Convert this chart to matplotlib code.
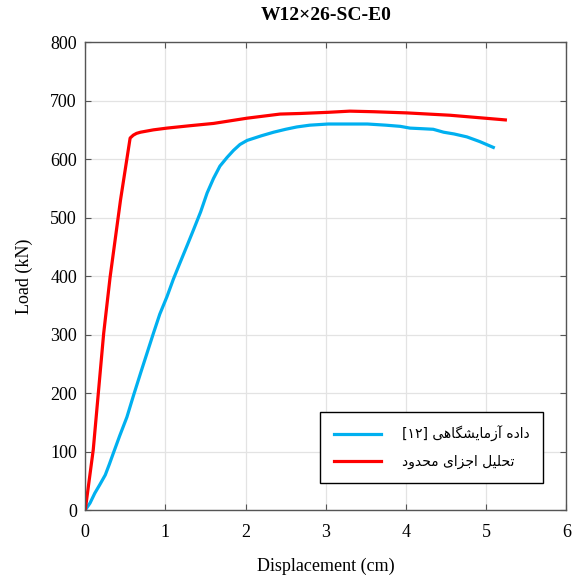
import matplotlib
matplotlib.use("Agg")
import matplotlib.pyplot as plt

# ---- data ----
fe_x = [0.0, 0.10, 0.23, 0.31, 0.44, 0.56, 0.60, 0.64, 0.69, 0.85, 1.02, 1.3, 1.6, 2.02, 2.43, 2.68,
        3.03, 3.3, 3.6, 4.01, 4.55, 5.24]
fe_y = [0, 103, 302, 398, 530, 636, 641, 644, 646, 650, 653, 657, 661, 670, 677, 678,
        680, 682, 681, 679, 675, 667]

exp_x = [0.0, 0.06, 0.12, 0.18, 0.25, 0.30, 0.35, 0.43, 0.52, 0.60, 0.69, 0.77, 0.85, 0.93, 1.02,
         1.10, 1.18, 1.27, 1.35, 1.44, 1.52, 1.60, 1.68, 1.77, 1.85, 1.93, 2.02, 2.2, 2.35, 2.5,
         2.64, 2.8, 3.03, 3.3, 3.52, 3.75, 3.93, 4.05, 4.2, 4.34, 4.47, 4.6, 4.76, 4.92, 5.09]
exp_y = [0, 12, 29, 43, 60, 78, 97, 127, 159, 195, 234, 268, 302, 335, 365,
         395, 422, 452, 479, 510, 542, 567, 588, 603, 615, 625, 632, 640, 646, 651,
         655, 658, 660, 660, 660, 658, 656, 653, 652, 651, 646, 643, 638, 630, 620]

x_ticks = [0, 1, 2, 3, 4, 5, 6]
y_ticks = [0, 100, 200, 300, 400, 500, 600, 700, 800]

title = "W12\u00d726-SC-E0"
xlabel = "Displacement (cm)"
ylabel = "Load (kN)"
# Persian labels, pre-shaped into visual order with presentation forms
# logical: "داده آزمایشگاهی [۱۲]"
label_exp = ("[\u06f1\u06f2] "
             "\uFBFD\uFEEB\uFE8E\uFB95\uFEB8\uFBFE\uFE8E\uFEE3\uFEAF\uFE81 "
             "\uFEE9\uFEA9\uFE8D\uFEA9")
# logical: "تحلیل اجزای محدود"
label_fe = ("\uFEA9\uFEED\uFEAA\uFEA4\uFEE3 "
            "\uFBFC\uFE8D\uFEB0\uFE9F\uFE8D "
            "\uFEDE\uFBFF\uFEE0\uFEA4\uFE97")

plt.rcParams['font.family'] = ['Liberation Serif', 'DejaVu Serif']

fig = plt.figure(figsize=(5.72, 5.77), dpi=100)
ax = fig.add_axes([0.149, 0.116, 0.841, 0.811])

ax.plot(exp_x, exp_y, color='#00B0F0', lw=2.3, label=label_exp)
ax.plot(fe_x, fe_y, color='#FF0000', lw=2.3, label=label_fe)

ax.set_xlim(0, 6)
ax.set_ylim(0, 800)
ax.set_xticks(x_ticks)
ax.set_yticks(y_ticks)
ax.tick_params(direction='in', top=True, right=True, labelsize=13, length=4,
               color='#555555')
ax.tick_params(axis='x', pad=10)
ax.tick_params(axis='y', pad=6)
ax.grid(True, color='#e3e3e3', lw=0.9)
ax.set_axisbelow(True)
for s in ax.spines.values():
    s.set_color('#555555')
    s.set_linewidth(1.0)

ax.set_title(title, fontsize=14, fontweight='bold', pad=16)
ax.set_xlabel(xlabel, fontsize=13, labelpad=12)
ax.set_ylabel(ylabel, fontsize=13, labelpad=12)

leg = ax.legend(loc='lower right', bbox_to_anchor=(0.952, 0.058),
                prop={'family': ['DejaVu Sans'], 'size': 10},
                fancybox=False, edgecolor='black', framealpha=1,
                handlelength=3.4, handletextpad=1.5, borderpad=1.0,
                labelspacing=0.9, borderaxespad=0)
leg.get_frame().set_linewidth(1.0)

fig.savefig("out.png", dpi=100)
